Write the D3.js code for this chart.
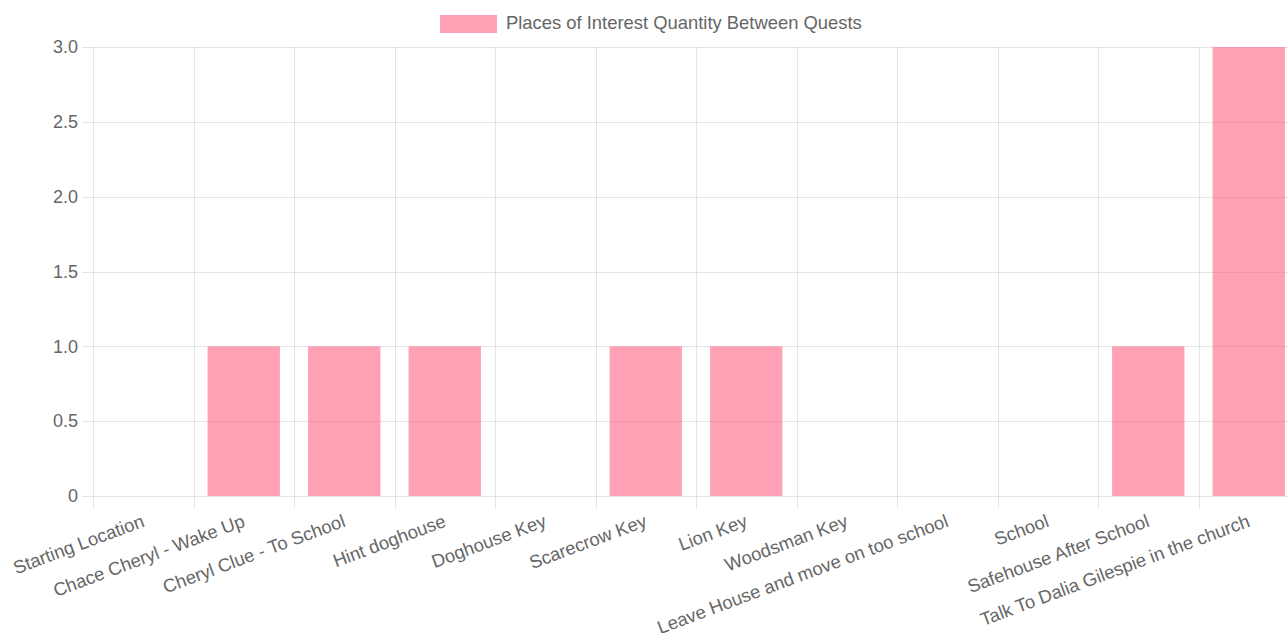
<!DOCTYPE html>
<html><head><meta charset="utf-8">
<script src="https://cdn.jsdelivr.net/npm/d3@7"></script>
<style>body{margin:0;background:#fff;}svg{display:block;}</style>
</head><body>
<svg id="c" width="1288" height="633"></svg>
<script>
const categories = ["Starting Location","Chace Cheryl - Wake Up","Cheryl Clue - To School","Hint doghouse","Doghouse Key","Scarecrow Key","Lion Key","Woodsman Key","Leave House and move on too school","School","Safehouse After School","Talk To Dalia Gilespie in the church"];
const values = [0,1,1,1,0,1,1,0,0,0,1,3];
const yTicks = [0,0.5,1,1.5,2,2.5,3];
const seriesName = "Places of Interest Quantity Between Quests";

(function(){
const W = 1288, H = 633;
const mLeft = 93, mTop = 47, mBottom = 496, step = 100.5;
const svg = d3.select("#c");
const font = "'Liberation Sans', Arial, Helvetica, sans-serif";
const txt = "#666";
const grid = "rgba(0,0,0,0.1)";
const fill = "rgba(255,99,132,0.6)";

const x = d3.scaleBand().domain(categories).range([mLeft, mLeft + step*categories.length]).paddingInner(0).paddingOuter(0);
const y = d3.scaleLinear().domain([0,3]).range([mBottom, mTop]);

// horizontal grid
svg.append("g").selectAll("line").data(yTicks).join("line")
  .attr("x1", mLeft-11).attr("x2", W).attr("y1", d=>Math.round(y(d))+0.5).attr("y2", d=>Math.round(y(d))+0.5)
  .attr("stroke", grid).attr("stroke-width",1);
// vertical grid (band edges)
svg.append("g").selectAll("line").data(categories).join("line")
  .attr("x1", d=>Math.round(x(d))+0.5).attr("x2", d=>Math.round(x(d))+0.5)
  .attr("y1", mTop).attr("y2", mBottom+12)
  .attr("stroke", grid).attr("stroke-width",1);

// bars
const bw = x.bandwidth()*0.72;
svg.append("g").selectAll("rect").data(categories).join("rect")
  .attr("x", (d)=>x(d)+x.bandwidth()/2-bw/2)
  .attr("width", bw)
  .attr("y", (d,i)=>y(values[i]))
  .attr("height", (d,i)=>y(0)-y(values[i]))
  .attr("fill", fill);

// y labels
svg.append("g").selectAll("text").data(yTicks).join("text")
  .attr("x", 78).attr("y", d=>y(d)).attr("dy","0.35em")
  .attr("text-anchor","end").attr("fill",txt)
  .style("font", `18px ${font}`)
  .text(d=> d===0 ? "0" : d.toFixed(1));

// x labels
svg.append("g").selectAll("text").data(categories).join("text")
  .attr("transform", d=>`translate(${x(d)+x.bandwidth()/2},${mBottom+24}) rotate(-20.5)`)
  .attr("text-anchor","end").attr("dy","0.35em").attr("fill",txt)
  .style("font", `18.4px ${font}`)
  .text(d=>d);

// legend
svg.append("rect").attr("x",440).attr("y",15).attr("width",57).attr("height",18)
  .attr("fill", fill);
svg.append("text").attr("x",506).attr("y",23).attr("dy","0.35em").attr("fill",txt)
  .style("font", `18.4px ${font}`).text(seriesName);
})();
</script>
</body></html>
